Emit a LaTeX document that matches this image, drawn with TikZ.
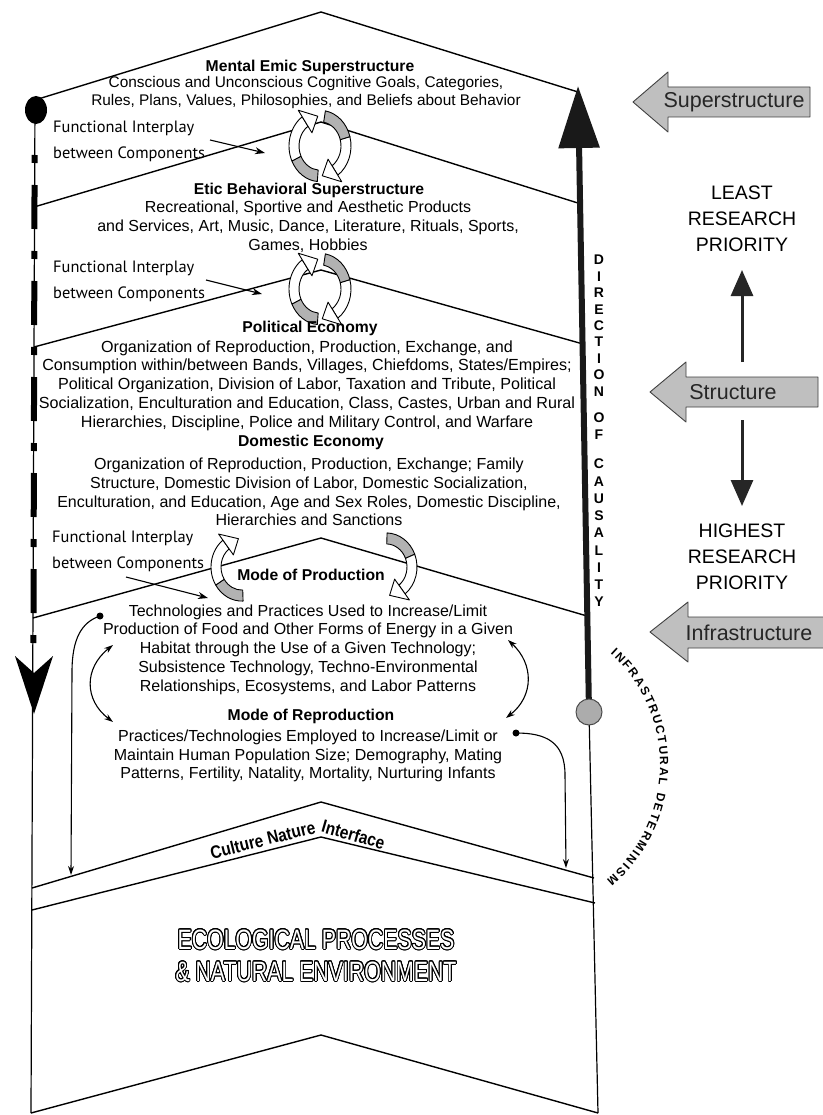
\documentclass[tikz,border=0pt]{standalone}
\usepackage{fontspec}
\setmainfont{Liberation Sans}
\newfontfamily\fifont{PT Sans}
\newfontfamily\narrowfont[FakeStretch=0.76]{Liberation Sans}
\newfontfamily\semifont[FakeStretch=0.86]{Liberation Sans}
\usepackage{contour}
\usetikzlibrary{arrows.meta,decorations.text}
\contourlength{0.9pt}
\contournumber{24}
\newcommand\cband[3]{\path[#3] (#1:31) arc[start angle=#1, end angle=#2, radius=31] -- (#2:21) arc[start angle=#2, end angle=#1, radius=21] -- cycle;}
\newcommand\chead[3]{\path[#3] (#1:14) -- (#1:38) -- ({#1+#2}:26) -- cycle;}
\begin{document}
\begin{tikzpicture}[x=1pt,y=-1pt,line join=round,
  sepline/.style={line width=1.4pt},
  edgeline/.style={line width=1.2pt},
  hdr/.style={font=\fontsize{15.7}{18}\selectfont\bfseries, inner sep=0pt},
  body/.style={font=\fontsize{16}{18.75}\selectfont, align=center, inner sep=0pt},
  fi/.style={font=\fifont\fontsize{16.4}{18}\selectfont, anchor=west, inner sep=0pt},
  ptr/.style={-{Stealth[length=10pt,width=7pt]}, line width=1.1pt},
  curv/.style={-{Stealth[length=9pt,width=6pt]}, line width=1.1pt},
  dcurv/.style={{Stealth[length=9pt,width=6pt]}-{Stealth[length=9pt,width=6pt]}, line width=1.1pt},
  hatch/.style={fill=gray!60, draw=black, line width=0.9pt},
  whitep/.style={fill=white, draw=black, line width=0.9pt},
  blockarrow/.style={fill=gray!50, draw=black!75, line width=0.9pt},
  sidetxt/.style={font=\fontsize{21.5}{21.5}\selectfont, text=black!85, inner sep=0pt},
  prio/.style={font=\fontsize{19.5}{26}\selectfont, align=center, inner sep=0pt},
  dirl/.style={font=\fontsize{14}{14}\selectfont\bfseries, inner sep=0pt},
]
\useasboundingbox[fill=white] (0,0) rectangle (822,1115);

% ---------- frame coordinates ----------
\coordinate (tl) at (35,100);
\coordinate (a1) at (321,12);
\coordinate (tr) at (578,92);
\coordinate (l2) at (34,207);  \coordinate (a2) at (321,122); \coordinate (r2) at (581,204);
\coordinate (l3) at (34,347);  \coordinate (a3) at (321,270); \coordinate (r3) at (583,344);
\coordinate (l4) at (33,618);  \coordinate (a4) at (321,538); \coordinate (r4) at (587,616);
\coordinate (l5) at (32,888);  \coordinate (a5) at (321,802); \coordinate (r5) at (594,878);
\coordinate (l6) at (32,910);  \coordinate (a6) at (321,837); \coordinate (r6) at (595,903);
\coordinate (bl) at (31,1113); \coordinate (a7) at (321,1035); \coordinate (br) at (598,1113);
\coordinate (dot) at (589,712);
\coordinate (arrtip) at (578,86);

% ---------- chevron lines ----------
\draw[sepline] (tl) -- (a1) -- (tr);
\draw[sepline] (l2) -- (a2) -- (r2);
\draw[sepline] (l3) -- (a3) -- (r3);
\draw[sepline] (l4) -- (a4) -- (r4);
\draw[sepline] (l5) -- (a5) -- (r5);
\draw[sepline] (l6) -- (a6) -- (r6);
\draw[sepline] (bl) -- (a7) -- (br);

% ---------- left edge with dashed causality arrow ----------
\draw[edgeline] (tl) -- (bl);
\coordinate (dashs) at (34.6,155);
\coordinate (dashe) at (33.4,655);
\draw[line width=6pt, dash pattern=on 8pt off 22pt on 44pt off 22pt] (dashs) -- (dashe);
\fill (36,110) ellipse [x radius=11, y radius=14];
\fill (15,656) -- (34,673) -- (53,656) -- (34,714) -- cycle;

% ---------- right edge, direction of causality ----------
\draw[edgeline] (dot) -- (br);
\draw[line width=6pt, black!90, -{Triangle[length=62pt,width=40pt]}] (dot) -- (arrtip);
\filldraw[fill=gray!65, draw=black!70, line width=1pt] (dot) circle (13);

\foreach \ch/\yy [count=\i] in {D/260,I/276.4,R/292.8,E/309.2,C/325.6,T/342,I/358.4,O/374.8,N/391.2,O/418,F/435,C/464,A/481.25,U/498.5,S/515.75,A/533,L/550.25,I/567.5,T/584.75,Y/602}
  \node[dirl] (dir\i) at (599,\yy) {\ch};

% ---------- functional interplay cycles ----------
\begin{scope}[shift={(320,146)},yscale=-1.15]
  \cband{265}{205}{hatch}
  \cband{80}{15}{hatch}
  \cband{205}{125}{whitep}
  \chead{125}{-30}{whitep}
  \cband{15}{-55}{whitep}
  \chead{-55}{-30}{whitep}
\end{scope}
\begin{scope}[shift={(320,289)},yscale=-1.15]
  \cband{265}{205}{hatch}
  \cband{80}{15}{hatch}
  \cband{205}{125}{whitep}
  \chead{125}{-30}{whitep}
  \cband{15}{-55}{whitep}
  \chead{-55}{-30}{whitep}
\end{scope}
\begin{scope}[shift={(242,567)},yscale=-1.1]
  \cband{272}{212}{hatch}
  \cband{212}{128}{whitep}
  \chead{128}{-30}{whitep}
\end{scope}
\begin{scope}[shift={(386,567)},yscale=-1.1]
  \cband{88}{22}{hatch}
  \cband{22}{-52}{whitep}
  \chead{-52}{-30}{whitep}
\end{scope}

% ---------- functional interplay labels ----------
\node[fi] (fi1a) at (53,128) {Functional Interplay};
\node[fi] (fi1b) at (53,154) {between Components};
\node[fi] (fi2a) at (53,268) {Functional Interplay};
\node[fi] (fi2b) at (53,294) {between Components};
\node[fi] (fi3a) at (52,538) {Functional Interplay};
\node[fi] (fi3b) at (52,564) {between Components};
\coordinate (p1s) at (210,140); \coordinate (p1e) at (265,153);
\coordinate (p2s) at (206,280); \coordinate (p2e) at (262,294);
\coordinate (p3s) at (126,577); \coordinate (p3e) at (208,598);
\draw[ptr] (p1s) -- (p1e);
\draw[ptr] (p2s) -- (p2e);
\draw[ptr] (p3s) -- (p3e);

% ---------- text blocks ----------
\node[hdr] (h1) at (310,67) {Mental Emic Superstructure};
\node[body, font=\fontsize{15.4}{18}\selectfont] (b1) at (306,93) {Conscious and Unconscious Cognitive Goals, Categories,\\Rules, Plans, Values, Philosophies, and Beliefs about Behavior};
\node[hdr] (h2) at (309,190) {Etic Behavioral Superstructure};
\node[body] (b2) at (308,226.5) {Recreational, Sportive and Aesthetic Products\\and Services, Art, Music, Dance, Literature, Rituals, Sports,\\Games, Hobbies};
\node[hdr] (h3) at (310,328) {Political Economy};
\node[body, font=\fontsize{16.1}{18.75}\selectfont] (b3) at (307,385.5) {Organization of Reproduction, Production, Exchange, and\\Consumption within/between Bands, Villages, Chiefdoms, States/Empires;\\Political Organization, Division of Labor, Taxation and Tribute, Political\\Socialization, Enculturation and Education, Class, Castes, Urban and Rural\\Hierarchies, Discipline, Police and Military Control, and Warfare};
\node[hdr] (h4) at (311,442) {Domestic Economy};
\node[body] (b4) at (309,492) {Organization of Reproduction, Production, Exchange; Family\\Structure, Domestic Division of Labor, Domestic Socialization,\\Enculturation, and Education, Age and Sex Roles, Domestic Discipline,\\Hierarchies and Sanctions};
\node[hdr] (h5) at (311,575) {Mode of Production};
\node[body] (b5) at (308,649.5) {Technologies and Practices Used to Increase/Limit\\Production of Food and Other Forms of Energy in a Given\\Habitat through the Use of a Given Technology;\\Subsistence Technology, Techno-Environmental\\Relationships, Ecosystems, and Labor Patterns};
\node[hdr] (h6) at (311,716) {Mode of Reproduction};
\node[body] (b6) at (308,756) {Practices/Technologies Employed to Increase/Limit or\\Maintain Human Population Size; Demography, Mating\\Patterns, Fertility, Natality, Mortality, Nurturing Infants};

% ---------- production/reproduction connectors ----------
\coordinate (ldot) at (100,616);
\coordinate (lend) at (71,875);
\coordinate (rdot) at (516,733);
\coordinate (rend) at (566,868);
\fill (ldot) circle (3.5);
\fill (rdot) circle (3.5);
\draw[curv] (ldot) .. controls (82,622) and (72,638) .. (72,672) -- (lend);
\draw[curv] (rdot) .. controls (546,733) and (565,742) .. (565,775) -- (rend);
\coordinate (dl1) at (113,645); \coordinate (dl2) at (113,722);
\coordinate (dr1) at (508,640); \coordinate (dr2) at (506,718);
\draw[dcurv] (dl1) .. controls (84,668) and (84,700) .. (dl2);
\draw[dcurv] (dr1) .. controls (534,664) and (534,696) .. (dr2);

% ---------- culture nature interface ----------
\path[decorate, decoration={text along path, text align=left,
  text={|\semifont\bfseries\fontsize{18}{18}\selectfont|Culture Nature Interface}}]
  (212,859) -- (321,832) -- (440,866);

% ---------- ecological ----------
\node[inner sep=0pt] (eco1) at (316,940) {\narrowfont\fontsize{28}{28}\selectfont\contour{black}{\textcolor{white}{ECOLOGICAL PROCESSES}}};
\node[inner sep=0pt] (eco2) at (316,972) {\narrowfont\fontsize{28}{28}\selectfont\contour{black}{\textcolor{white}{\& NATURAL ENVIRONMENT}}};

% ---------- infrastructural determinism ----------
\path[decorate, decoration={text along path, text align={fit to path},
  text={|\bfseries\fontsize{12}{12}\selectfont|INFRASTRUCTURAL DETERMINISM}}]
  (510,765) ++(-48:150) arc[start angle=-48, end angle=50, radius=150];

% ---------- right column ----------
\path[blockarrow] (633,102) -- (668,72) -- (668,87) -- (810,87) -- (810,117) -- (668,117) -- (668,132) -- cycle;
\node[sidetxt] (sup) at (734,102) {Superstructure};
\path[blockarrow] (650,392) -- (686,362) -- (686,377) -- (818,377) -- (818,407) -- (686,407) -- (686,422) -- cycle;
\node[sidetxt] (str) at (733,392) {Structure};
\path[blockarrow] (650,632) -- (688,602) -- (688,617) -- (830,617) -- (830,648) -- (688,648) -- (688,662) -- cycle;
\node[sidetxt] (inf) at (749,633) {Infrastructure};

\node[prio] (least) at (742,219) {LEAST\\RESEARCH\\PRIORITY};
\node[prio] (high) at (742,557) {HIGHEST\\RESEARCH\\PRIORITY};
\coordinate (upS) at (742,362); \coordinate (upE) at (742,270);
\coordinate (dnS) at (742,420); \coordinate (dnE) at (742,506);
\draw[line width=3pt, black!85, -{Triangle[length=26pt,width=22pt]}] (upS) -- (upE);
\draw[line width=3pt, black!85, -{Triangle[length=26pt,width=22pt]}] (dnS) -- (dnE);
\end{tikzpicture}
\end{document}
